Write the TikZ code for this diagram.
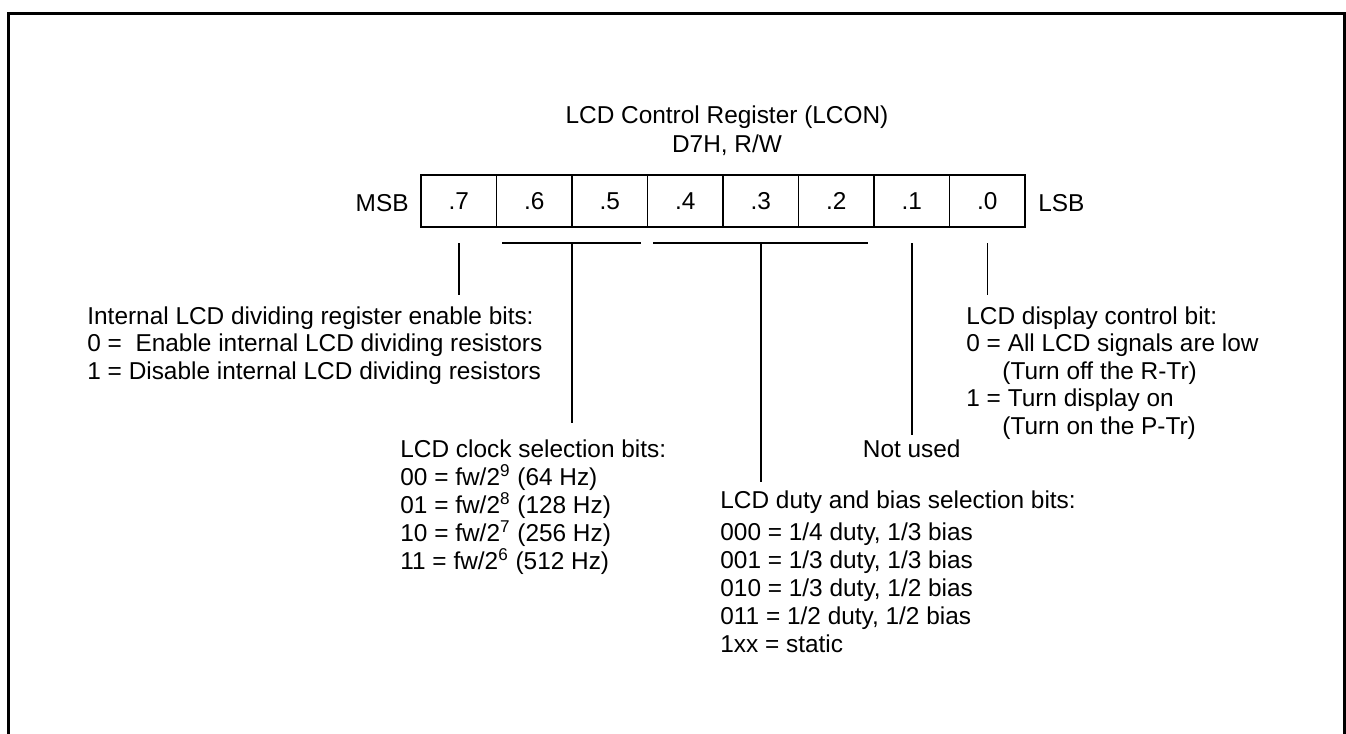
\documentclass[tikz,border=0pt]{standalone}
\usepackage{fontspec}
\setmainfont{Liberation Sans}
\begin{document}
\begin{tikzpicture}[x=0.5pt,y=-0.5pt,
  font=\fontsize{12.2pt}{14pt}\selectfont,
  cell/.style={draw, line width=0.75pt, minimum width=37.75pt, minimum height=26pt, inner sep=0pt},
  lbl/.style={anchor=base west, inner sep=0pt},
  ctr/.style={anchor=base, inner sep=0pt},
  conn/.style={line width=0.75pt},
  frameline/.style={line width=1.5pt}]
\useasboundingbox (0,0) rectangle (1346,734);
\draw[frameline] (8.5,745) -- (8.5,13) -- (1344.5,13) -- (1344.5,745);

% title
\node[ctr] (title1) at (727,123) {LCD Control Register (LCON)};
\node[ctr] (title2) at (727,152) {D7H, R/W};

% register cells
\foreach \b [count=\i from 0] in {7,...,0}
  \node[cell] (c\b) at ({421+75.5*(\i+0.5)},201) {.\b};
\node[anchor=base east, inner sep=0pt] (msb) at (409,211) {MSB};
\node[lbl] (lsb) at (1038,211) {LSB};

% connector points
\coordinate (v7t) at (458.75,243);  \coordinate (v7b) at (458.75,295);
\coordinate (b1l) at (502,243);     \coordinate (b1r) at (641,243);
\coordinate (b1t) at (572,243);     \coordinate (b1b) at (572,423);
\coordinate (b2l) at (653,243);     \coordinate (b2r) at (868,243);
\coordinate (b2t) at (760.75,243);  \coordinate (b2b) at (760.75,482);
\coordinate (v1t) at (911.75,243);  \coordinate (v1b) at (911.75,435);
\coordinate (v0t) at (987.25,243);  \coordinate (v0b) at (987.25,295);

\draw[conn] (v7t) -- (v7b);
\draw[conn] (b1l) -- (b1r);
\draw[conn] (b1t) -- (b1b);
\draw[conn] (b2l) -- (b2r);
\draw[conn] (b2t) -- (b2b);
\draw[conn] (v1t) -- (v1b);
\draw[conn] (v0t) -- (v0b);

% bit 7 description
\node[lbl] (d7a) at (87,324) {Internal LCD dividing register enable bits:};
\node[lbl] (d7b) at (87,351.5) {0 = \ Enable internal LCD dividing resistors};
\node[lbl] (d7c) at (87,379) {1 = Disable internal LCD dividing resistors};

% bit 0 description
\node[lbl] (d0a) at (966,324) {LCD display control bit:};
\node[lbl] (d0b) at (966,351.5) {0 = All LCD signals are low};
\node[lbl] (d0c) at (966,379) {\hspace*{18pt}(Turn off the R-Tr)};
\node[lbl] (d0d) at (966,406.5) {1 = Turn display on};
\node[lbl] (d0e) at (966,434) {\hspace*{18pt}(Turn on the P-Tr)};

% bit 1
\node[ctr] (d1) at (911.75,457) {Not used};

% bits 6-5
\node[lbl] (d65a) at (400,457) {LCD clock selection bits:};
\node[lbl] (d65b) at (400,485) {00 = fw/2\textsuperscript{9} (64 Hz)};
\node[lbl] (d65c) at (400,513) {01 = fw/2\textsuperscript{8} (128 Hz)};
\node[lbl] (d65d) at (400,541) {10 = fw/2\textsuperscript{7} (256 Hz)};
\node[lbl] (d65e) at (400,569) {11 = fw/2\textsuperscript{6} (512 Hz)};

% bits 4-2
\node[lbl] (d42a) at (720,508) {LCD duty and bias selection bits:};
\node[lbl] (d42b) at (720,540) {000 = 1/4 duty, 1/3 bias};
\node[lbl] (d42c) at (720,568) {001 = 1/3 duty, 1/3 bias};
\node[lbl] (d42d) at (720,596) {010 = 1/3 duty, 1/2 bias};
\node[lbl] (d42e) at (720,624) {011 = 1/2 duty, 1/2 bias};
\node[lbl] (d42f) at (720,652) {1xx = static};
\end{tikzpicture}
\end{document}
